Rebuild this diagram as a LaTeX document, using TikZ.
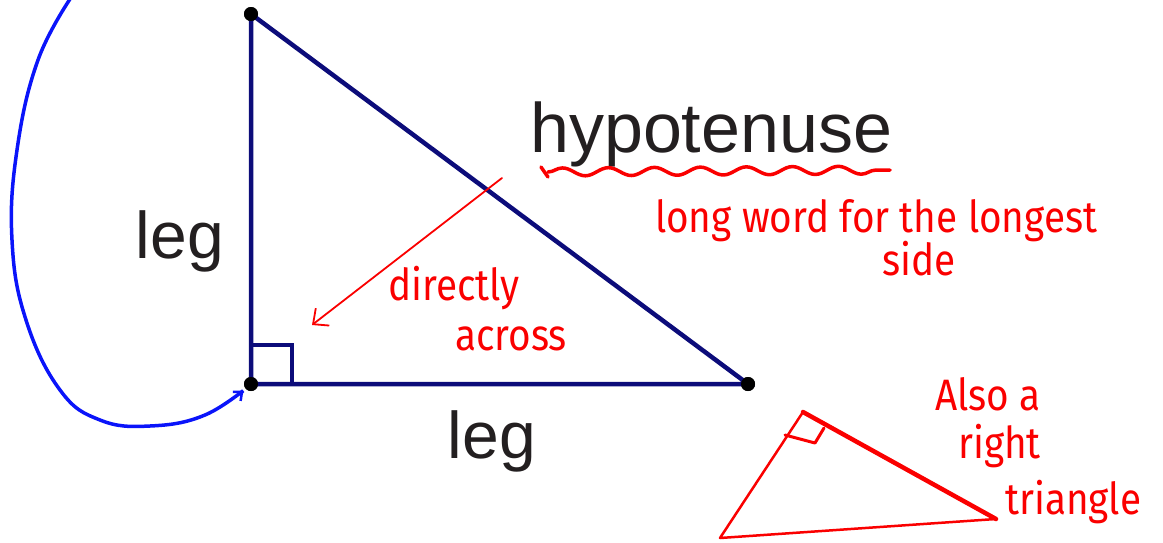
\documentclass[tikz,border=0pt]{standalone}
\usepackage{fontspec}
\setmainfont{Liberation Sans}
\newfontfamily\handfont[FakeStretch=0.88]{Fira Sans}
\usetikzlibrary{arrows.meta,decorations.pathmorphing}
\definecolor{navyline}{RGB}{12,12,122}
\definecolor{inkgray}{RGB}{35,31,32}
\definecolor{penred}{RGB}{250,0,0}
\definecolor{penblue}{RGB}{10,20,250}
\tikzset{
  vertex/.style={circle,fill=black,inner sep=0pt,minimum size=14pt},
  side/.style={draw=navyline,line width=4.5pt},
  biglabel/.style={text=inkgray,inner sep=0pt,font=\fontsize{66}{70}\selectfont},
  handnote/.style={text=penred,inner sep=0pt,font=\handfont\fontsize{44}{48}\selectfont},
  redpen/.style={draw=penred,line cap=round,line join=round}
}
\begin{document}
\begin{tikzpicture}[x=1pt,y=-1pt]
\useasboundingbox (0,0) rectangle (1163,542);
% big triangle
\node[vertex] (A) at (251,14) {};
\node[vertex] (B) at (251,384) {};
\node[vertex] (C) at (748,384) {};
\draw[side] (A.center) -- (B.center) -- (C.center) -- cycle;
\draw[side,line width=3.5pt] (251,345) -- (292,345) -- (292,384);
\node[vertex] at (A) {};
\node[vertex] at (B) {};
\node[vertex] at (C) {};
% labels
\node[biglabel,anchor=base] (legleft) at (180,258) {leg};
\node[biglabel,anchor=base] (legbottom) at (492,458) {leg};
\node[biglabel,anchor=base west,font=\fontsize{70}{74}\selectfont] (hyp) at (530,152) {hypotenuse};
% red notes
\draw[redpen,line width=3.5pt,decorate,decoration={snake,amplitude=4pt,segment length=46pt}]
  (548,172) -- (890,170);
\draw[redpen,line width=3.5pt] (541,167) -- (548,177);
\coordinate (across top) at (502,178);
\coordinate (across tip) at (312,325);
\draw[redpen,line width=1.8pt,-{Straight Barb[length=12pt,width=22pt,line width=1.8pt]}] (across top) -- (across tip);
\node[handnote,anchor=base west] (directly) at (388,300) {directly};
\node[handnote,anchor=base west] (across) at (455,350) {across};
\node[handnote,anchor=base west] (longword) at (655,232) {long word for the longest};
\node[handnote,anchor=base west] (side) at (882,275) {side};
% small triangle
\coordinate (P) at (803,412);
\coordinate (Q) at (720,538);
\coordinate (R) at (996,519);
\draw[redpen,line width=2.5pt] (R) -- (Q) -- (P);
\draw[redpen,line width=4.5pt] (P) -- (R);
\draw[redpen,line width=3pt] (785,435) -- (815,443) -- (824,428);
\node[handnote,anchor=base west] (alsoa) at (935,410) {Also a};
\node[handnote,anchor=base west] (right) at (958,458) {right};
\node[handnote,anchor=base west] (triangle) at (1005,514) {triangle};
% blue loop
\coordinate (loop start) at (72,-4);
\draw[penblue,line width=3.5pt,line cap=round,-{Straight Barb[length=7pt,width=12pt,line width=2.5pt]},shorten >=10pt]
  plot[smooth,tension=0.7] coordinates {(loop start) (38,60) (17,150) (12,240) (26,320) (60,390) (100,420) (150,426) (205,415) (B)};
\end{tikzpicture}
\end{document}
